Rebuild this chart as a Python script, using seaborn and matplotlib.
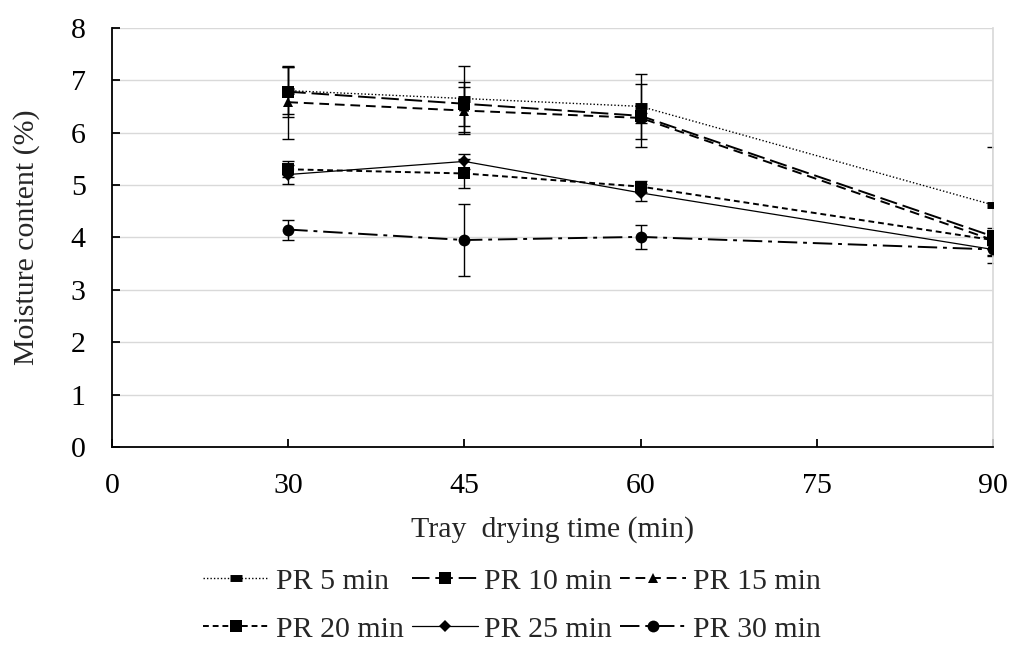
import numpy as np
import pandas as pd
import matplotlib
matplotlib.use("Agg")
import matplotlib.pyplot as plt
import seaborn as sns

times = [30, 45, 60, 90]
x_ticks = [15, 30, 45, 60, 75, 90]
x_tick_labels = ["0", "30", "45", "60", "75", "90"]
series_names = ["PR 5 min", "PR 10 min", "PR 15 min", "PR 20 min", "PR 25 min", "PR 30 min"]
pr5 = [6.80, 6.65, 6.50, 4.62]
pr10 = [6.78, 6.55, 6.32, 4.02]
pr15 = [6.58, 6.42, 6.28, 3.95]
pr20 = [5.30, 5.22, 4.97, 3.95]
pr25 = [5.20, 5.45, 4.85, 3.77]
pr30 = [4.15, 3.95, 4.01, 3.77]
err5 = [0.45, 0.63, 0.62, 1.10]
err10 = [0.48, 0.42, 0.60, 0.15]
err15 = [0.70, 0.45, 0.10, 0.10]
err20 = [0.15, 0.28, 0.10, 0.10]
err25 = [0.18, 0.15, 0.16, 0.10]
err30 = [0.19, 0.68, 0.23, 0.12]

values = [pr5, pr10, pr15, pr20, pr25, pr30]
errors = [err5, err10, err15, err20, err25, err30]

rows = []
for name, vals, errs in zip(series_names, values, errors):
    for t, v, e in zip(times, vals, errs):
        rows.append({"time": t, "mc": v, "err": e, "series": name})
df = pd.DataFrame(rows)

sns.set_theme(style="white")
plt.rcParams['font.family'] = ['Liberation Serif', 'DejaVu Serif']

FS = 21.5
fig = plt.figure(figsize=(10.1, 6.46), dpi=100)
ax = fig.add_axes([0.111, 0.308, 0.872, 0.649])

styles = {
    "PR 5 min": dict(ls=(0, (1, 1.5)), marker="_", ms=9, mew=5, lw=1.0),
    "PR 10 min": dict(ls=(0, (9, 3)), marker="s", ms=8, mew=0, lw=1.4),
    "PR 15 min": dict(ls=(0, (5, 3)), marker="^", ms=7.5, mew=0, lw=1.4),
    "PR 20 min": dict(ls=(0, (3, 2)), marker="s", ms=8, mew=0, lw=1.4),
    "PR 25 min": dict(ls="-", marker="D", ms=6, mew=0, lw=0.9),
    "PR 30 min": dict(ls=(0, (10, 3, 2, 3)), marker="o", ms=8.5, mew=0, lw=1.4),
}

for name in series_names:
    sub = df[df.series == name]
    st = styles[name]
    ax.errorbar(sub["time"], sub["mc"], yerr=sub["err"], fmt="none",
                ecolor="black", elinewidth=1.0, capsize=4.5, capthick=1.0, zorder=2)
    sns.lineplot(data=sub, x="time", y="mc", ax=ax, color="black",
                 linestyle=st["ls"], linewidth=st["lw"], marker=st["marker"],
                 markersize=st["ms"], markeredgewidth=st["mew"],
                 markeredgecolor="black", label=name, zorder=3)

ax.set_xlim(15, 90)
ax.set_ylim(0, 8)
ax.set_xticks(x_ticks)
ax.set_xticklabels(x_tick_labels)
ax.set_yticks(range(0, 9))
ax.yaxis.grid(True, color="#d9d9d9", linewidth=1.0)
ax.set_axisbelow(True)
ax.spines["top"].set_visible(False)
ax.spines["right"].set_color("#d9d9d9")
ax.spines["left"].set_color("black")
ax.spines["bottom"].set_color("black")
ax.spines["left"].set_linewidth(1.3)
ax.spines["bottom"].set_linewidth(1.3)
ax.tick_params(axis="both", labelsize=FS, colors="black", direction="in",
               length=6, width=1.3, bottom=True, left=True, pad=19)
ax.set_xlabel("Tray  drying time (min)", fontsize=FS, labelpad=12)
ax.set_ylabel("Moisture content (%)", fontsize=FS, labelpad=22)

h, l = ax.get_legend_handles_labels()
order = [0, 3, 1, 4, 2, 5]
ax.legend([h[i] for i in order], [l[i] for i in order], loc="upper left",
          bbox_to_anchor=(0.09, -0.26), ncol=3,
          frameon=False, fontsize=FS, handlelength=2.2, handletextpad=0.23,
          columnspacing=0.27, labelspacing=0.7, borderaxespad=0.0)

fig.savefig("out.png", dpi=100)
